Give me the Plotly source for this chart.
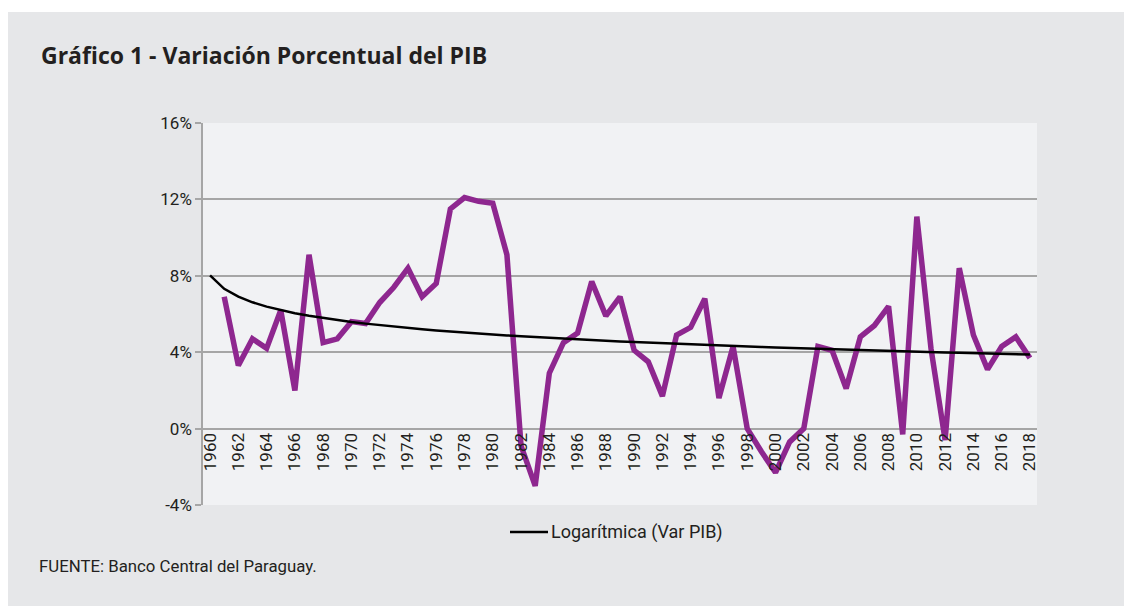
import numpy as np
import plotly.graph_objects as go

# ---- data ----
years = list(range(1960, 2019))
var_pib = [None,
           6.9, 3.3, 4.7, 4.2, 6.2, 2.0, 9.1, 4.5, 4.7, 5.6,
           5.5, 6.6, 7.4, 8.4, 6.9, 7.6, 11.5, 12.1, 11.9, 11.8,
           9.1, -0.9, -3.0, 2.9, 4.5, 5.0, 7.7, 5.9, 6.9, 4.1,
           3.5, 1.7, 4.9, 5.3, 6.8, 1.6, 4.3, 0.0, -1.2, -2.3,
           -0.7, 0.0, 4.3, 4.1, 2.1, 4.8, 5.4, 6.4, -0.3, 11.1,
           4.2, -0.6, 8.4, 4.9, 3.1, 4.3, 4.8, 3.7]
y_ticks = [-4, 0, 4, 8, 12, 16]
y_labels = ["-4%", "0%", "4%", "8%", "12%", "16%"]
x_ticks = list(range(1960, 2019, 2))

title = "Gráfico 1 - Variación Porcentual del PIB"
source = "FUENTE: Banco Central del Paraguay."
trend_name = "Logarítmica (Var PIB)"

# logarithmic trendline (least squares on ln of category index), as the spreadsheet does
idx = np.arange(1, len(years) + 1)
mask = np.array([v is not None for v in var_pib])
vals = np.array([v if v is not None else np.nan for v in var_pib], dtype=float)
a, b = np.polyfit(np.log(idx[mask]), vals[mask], 1)
trend = a * np.log(idx) + b

W, H = 1132, 606
OFF = 8  # page body margin
L, R, T, B = 203 - OFF, 1037 - OFF, 123 - OFF, 505 - OFF
PW, PH = R - L, B - T

def px(x):  # screen x -> paper
    return (x - OFF - L) / PW

def py(y):  # screen y -> paper
    return (B - (y - OFF)) / PH

FONT = "Roboto, Liberation Sans, sans-serif"
TXT = "#231f20"
GRID = "#a6a6a6"

fig = go.Figure()
fig.add_trace(go.Scatter(x=years, y=var_pib, mode="lines",
                         line=dict(color="#8e278f", width=5.5),
                         showlegend=False, connectgaps=False))
fig.add_trace(go.Scatter(x=years, y=trend, mode="lines",
                         line=dict(color="#000000", width=2.5),
                         name=trend_name, showlegend=False))

fig.update_layout(
    width=W, height=H,
    margin=dict(l=L, r=W - R, t=T, b=H - B, pad=0),
    paper_bgcolor="#e6e7e9",
    plot_bgcolor="#f1f2f4",
    font=dict(family=FONT, color=TXT, size=17),
    showlegend=False,
    xaxis=dict(range=[1959.5, 2018.5], tickmode="array", tickvals=x_ticks,
               ticktext=[str(v) for v in x_ticks], tickangle=-90,
               showgrid=False, zeroline=False, showline=False,
               anchor="free", position=0.2, ticks="",
               tickfont=dict(family=FONT, size=17, color=TXT)),
    yaxis=dict(range=[-4, 16], tickmode="array", tickvals=y_ticks,
               ticktext=y_labels, showgrid=True, gridcolor=GRID, gridwidth=1.5,
               zeroline=False, showline=True, linecolor=GRID, linewidth=1.5,
               ticks="outside", ticklen=6, tickcolor=GRID, tickwidth=1.5,
               tickfont=dict(family=FONT, size=17, color=TXT)),
    shapes=[
        # white strip above the grey panel
        dict(type="rect", xref="paper", yref="paper", x0=px(-20), x1=px(W + 20),
             y0=py(12), y1=py(-20), fillcolor="white", line=dict(width=0), layer="above"),
        # legend sample line
        dict(type="line", xref="paper", yref="paper", x0=px(510), x1=px(548),
             y0=py(532), y1=py(532), line=dict(color="#000000", width=2.5)),
    ],
    annotations=[
        dict(text="<b>" + title + "</b>", xref="paper", yref="paper",
             x=px(39), y=py(55), xanchor="left", yanchor="middle", showarrow=False,
             font=dict(family="Open Sans, Roboto, sans-serif", size=23, color=TXT)),
        dict(text=trend_name, xref="paper", yref="paper",
             x=px(549), y=py(532), xanchor="left", yanchor="middle", showarrow=False,
             font=dict(family=FONT, size=18, color=TXT)),
        dict(text=source, xref="paper", yref="paper",
             x=px(37), y=py(566), xanchor="left", yanchor="middle", showarrow=False,
             font=dict(family=FONT, size=16.8, color=TXT)),
    ],
)

fig.write_html("out.html")
